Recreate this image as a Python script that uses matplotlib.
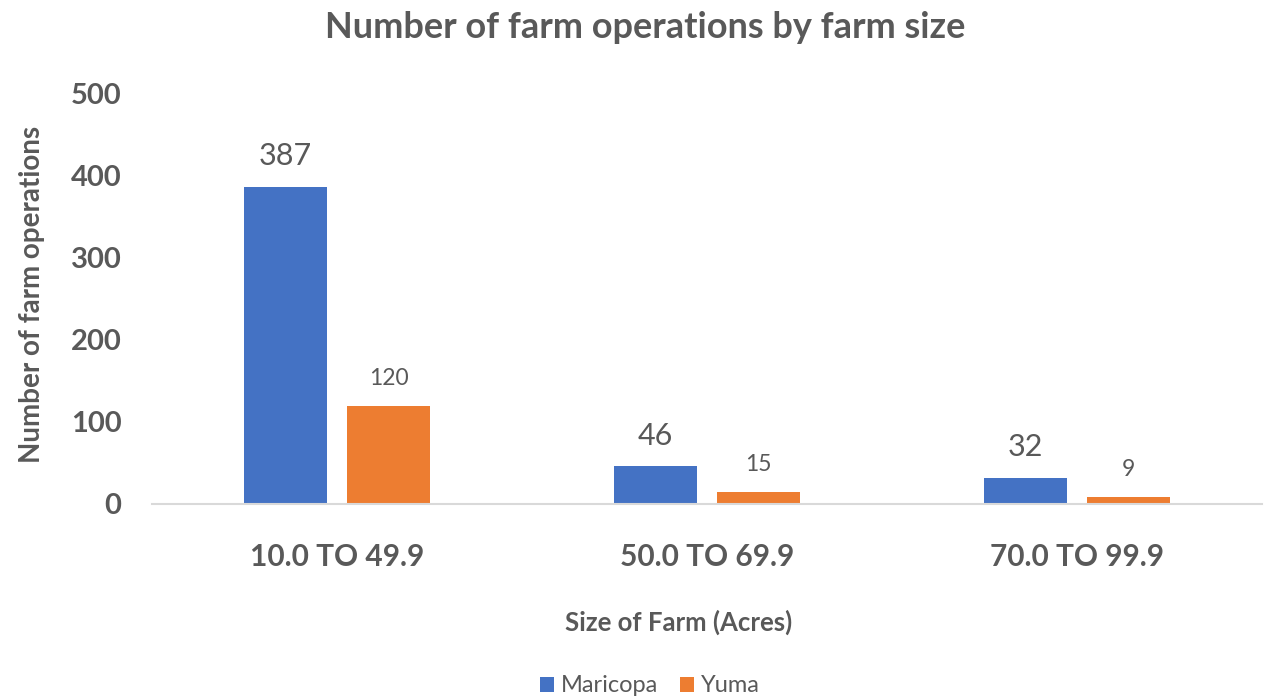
import matplotlib.pyplot as plt
import numpy as np

plt.rcParams['font.family'] = ['Lato', 'DejaVu Sans']

sizes = ['10.0 TO 49.9', '50.0 TO 69.9', '70.0 TO 99.9']
maricopa = [387, 46, 32]
yuma = [120, 15, 9]

blue = '#4472C4'
orange = '#ED7D31'
grey = '#595959'

fig = plt.figure(figsize=(12.69, 6.99), dpi=100)
ax = fig.add_axes([152 / 1269, 1 - 504 / 699, 1110 / 1269, 410 / 699])

x = np.arange(len(sizes))
w = 0.225
b1 = ax.bar(x - 0.14, maricopa, w, color=blue, label='Maricopa')
b2 = ax.bar(x + 0.14, yuma, w, color=orange, label='Yuma')

for rect, v in zip(b1, maricopa):
    ax.annotate(str(v), (rect.get_x() + rect.get_width() / 2, v),
                xytext=(0, 12), textcoords='offset points',
                ha='center', va='bottom', fontsize=22, color=grey)
for rect, v in zip(b2, yuma):
    ax.annotate(str(v), (rect.get_x() + rect.get_width() / 2, v),
                xytext=(0, 12), textcoords='offset points',
                ha='center', va='bottom', fontsize=16.5, color=grey)

ax.set_xlim(-0.5, 2.5)
ax.set_ylim(0, 500)
ax.set_yticks([0, 100, 200, 300, 400, 500])
ax.set_xticks(x)
ax.set_xticklabels(sizes)
ax.tick_params(axis='y', length=0, pad=22, labelsize=21, labelcolor=grey)
ax.tick_params(axis='x', length=0, pad=28, labelsize=21.5, labelcolor=grey)
for lbl in ax.get_xticklabels() + ax.get_yticklabels():
    lbl.set_fontweight('bold')

for s in ['top', 'right', 'left']:
    ax.spines[s].set_visible(False)
ax.spines['bottom'].set_color('#D9D9D9')
ax.spines['bottom'].set_linewidth(1.5)

fig.text(645 / 1269, 1 - 27 / 699, 'Number of farm operations by farm size',
         ha='center', va='center', fontsize=26, fontweight='bold', color=grey)
fig.text(32 / 1269, 1 - 294 / 699, 'Number of farm operations', rotation=90,
         ha='center', va='center', fontsize=20, fontweight='bold', color=grey)
fig.text(679 / 1269, 1 - 622 / 699, 'Size of Farm (Acres)',
         ha='center', va='center', fontsize=18.5, fontweight='bold', color=grey)

fig.legend(loc='center', bbox_to_anchor=(650 / 1269, 1 - 686 / 699), ncol=2,
           frameon=False, fontsize=17, labelcolor=grey, handlelength=0.6,
           handleheight=0.6, handletextpad=0.3, columnspacing=0.9)

fig.savefig('out.png', dpi=100)
